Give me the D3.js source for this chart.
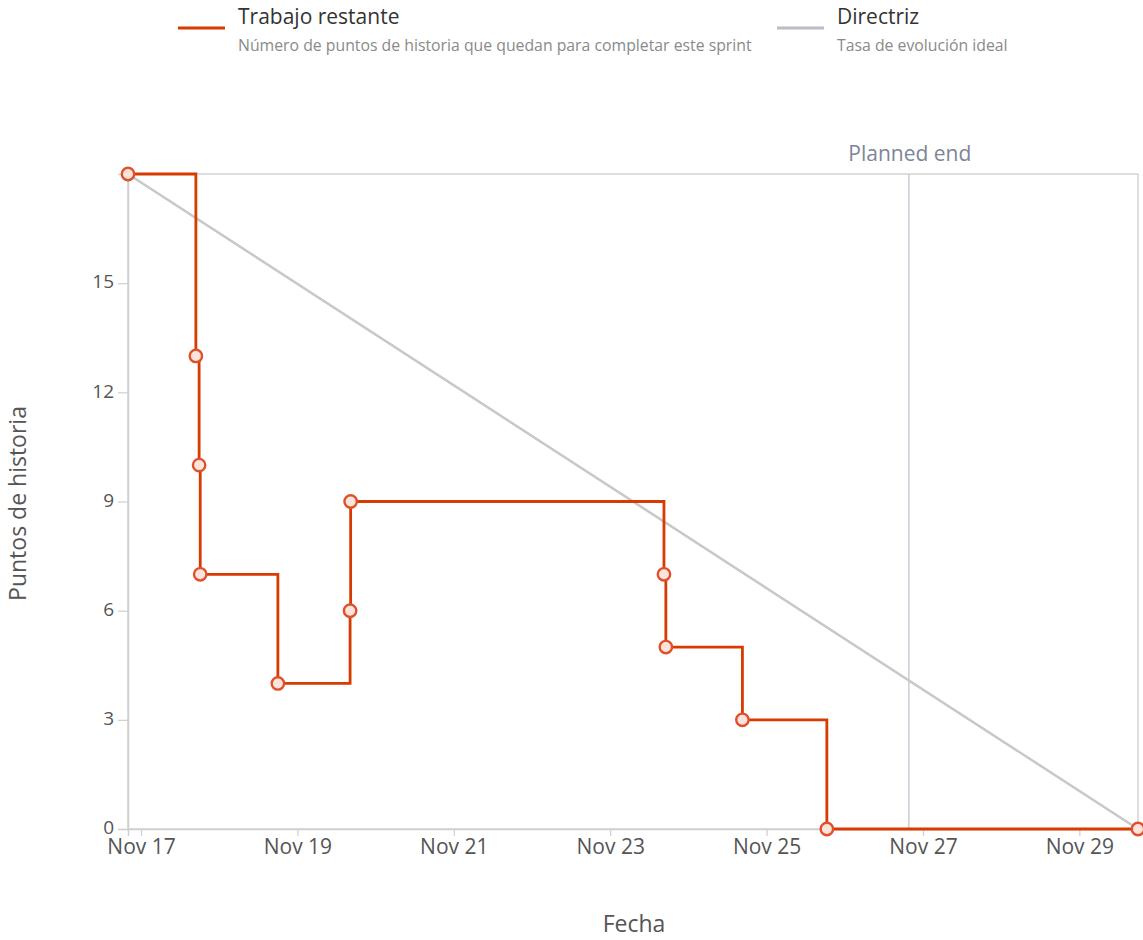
<!DOCTYPE html>
<html>
<head>
<meta charset="utf-8">
<script src="https://cdn.jsdelivr.net/npm/d3@7"></script>
<style>
  html, body { margin: 0; padding: 0; background: #fff; }
  svg { display: block; font-family: "Open Sans", "Noto Sans", sans-serif; }
</style>
</head>
<body>
<svg id="chart" width="1143" height="940"></svg>
<script>
// ---- Data ----
const remainingDates = [
  "2022-11-16T20:00", "2022-11-17T16:50", "2022-11-17T17:50", "2022-11-17T18:10",
  "2022-11-18T18:00", "2022-11-19T16:10", "2022-11-19T16:20", "2022-11-23T16:30",
  "2022-11-23T17:05", "2022-11-24T16:35", "2022-11-25T18:30", "2022-11-29T18:00"
];
const remainingValues = [18, 13, 10, 7, 4, 6, 9, 7, 5, 3, 0, 0];
const idealDates = ["2022-11-16T20:00", "2022-11-29T18:00"];
const idealValues = [18, 0];
const plannedEnd = "2022-11-26T19:40";
const xTickLabels = ["Nov 17", "Nov 19", "Nov 21", "Nov 23", "Nov 25", "Nov 27", "Nov 29"];
const xTickDates = ["2022-11-17T00:00", "2022-11-19T00:00", "2022-11-21T00:00", "2022-11-23T00:00",
                    "2022-11-25T00:00", "2022-11-27T00:00", "2022-11-29T00:00"];
const yTicks = [0, 3, 6, 9, 12, 15];
const legendItems = [
  { name: "Trabajo restante", desc: "Número de puntos de historia que quedan para completar este sprint", color: "#d83b01" },
  { name: "Directriz", desc: "Tasa de evolución ideal", color: "#b9bdc9" }
];

const parse = s => new Date(s);

// ---- Layout ----
const svg = d3.select("#chart");
const M = { left: 128, right: 1138, top: 174, bottom: 829 };

const x = d3.scaleTime()
  .domain([parse(idealDates[0]), parse(idealDates[1])])
  .range([M.left, M.right]);
const y = d3.scaleLinear().domain([0, 18]).range([M.bottom, M.top]);

// Frame
svg.append("rect")
  .attr("x", M.left).attr("y", M.top)
  .attr("width", M.right - M.left).attr("height", M.bottom - M.top)
  .attr("fill", "none").attr("stroke", "#d4d4d4").attr("stroke-width", 1.5);

// Axes
const xAxis = d3.axisBottom(x)
  .tickValues(xTickDates.map(parse))
  .tickFormat((d, i) => xTickLabels[i])
  .tickSizeOuter(0).tickSize(7).tickPadding(3);
const gx = svg.append("g").attr("transform", `translate(0,${M.bottom})`).call(xAxis);
gx.select(".domain").attr("stroke", "#cfcfcf").attr("stroke-width", 1.5);
gx.selectAll(".tick line").attr("stroke", "#cfcfcf").attr("stroke-width", 1.2);
gx.selectAll(".tick text").attr("fill", "#555").attr("font-size", 21)
  .attr("font-family", "Open Sans, sans-serif").attr("dy", "0.71em");

const yAxis = d3.axisLeft(y).tickValues(yTicks).tickSizeOuter(0).tickSize(10).tickPadding(4);
const gy = svg.append("g").attr("transform", `translate(${M.left},0)`).call(yAxis);
gy.select(".domain").attr("stroke", "#cfcfcf").attr("stroke-width", 1.5);
gy.selectAll(".tick line").attr("stroke", "#cfcfcf").attr("stroke-width", 1.2);
gy.selectAll(".tick text").attr("fill", "#555").attr("font-size", 19)
  .attr("font-family", "Open Sans, sans-serif").attr("dy", "0.25em");

// Axis titles
svg.append("text")
  .attr("transform", `translate(26,${(M.top + M.bottom) / 2 + 2}) rotate(-90)`)
  .attr("text-anchor", "middle").attr("fill", "#555").attr("font-size", 23)
  .text("Puntos de historia");
svg.append("text")
  .attr("x", 634).attr("y", 932)
  .attr("text-anchor", "middle").attr("fill", "#555").attr("font-size", 23)
  .text("Fecha");

// Planned end
const pe = x(parse(plannedEnd));
svg.append("line")
  .attr("x1", pe).attr("x2", pe).attr("y1", M.top).attr("y2", M.bottom)
  .attr("stroke", "#c8ccd6").attr("stroke-width", 1.5);
svg.append("text")
  .attr("x", pe + 1).attr("y", 161).attr("text-anchor", "middle")
  .attr("fill", "#7d8598").attr("font-size", 21)
  .text("Planned end");

// Ideal line
const idealData = idealDates.map((d, i) => ({ date: parse(d), value: idealValues[i] }));
svg.append("path")
  .datum(idealData)
  .attr("d", d3.line().x(d => x(d.date)).y(d => y(d.value)))
  .attr("fill", "none").attr("stroke", "#c8c8c8").attr("stroke-width", 2.5);

// Remaining work
const remData = remainingDates.map((d, i) => ({ date: parse(d), value: remainingValues[i] }));
svg.append("path")
  .datum(remData)
  .attr("d", d3.line().curve(d3.curveStepAfter).x(d => x(d.date)).y(d => y(d.value)))
  .attr("fill", "none").attr("stroke", "#d83b01").attr("stroke-width", 2.8);

svg.selectAll("circle.pt")
  .data(remData)
  .join("circle")
  .attr("class", "pt")
  .attr("cx", d => x(d.date)).attr("cy", d => y(d.value))
  .attr("r", 6.2)
  .attr("fill", "#fbe4dc").attr("stroke", "#e0502a").attr("stroke-width", 2.4);

// Legend
const legendX = [178, 777];
legendItems.forEach((it, i) => {
  const g = svg.append("g").attr("transform", `translate(${legendX[i]},0)`);
  g.append("line").attr("x1", 0).attr("x2", 47).attr("y1", 28).attr("y2", 28)
    .attr("stroke", it.color).attr("stroke-width", 3);
  g.append("text").attr("x", 60).attr("y", 24).attr("fill", "#333").attr("font-size", 21)
    .text(it.name);
  g.append("text").attr("x", 60).attr("y", 51).attr("fill", "#8a8a8a").attr("font-size", 15.8)
    .text(it.desc);
});
</script>
</body>
</html>
